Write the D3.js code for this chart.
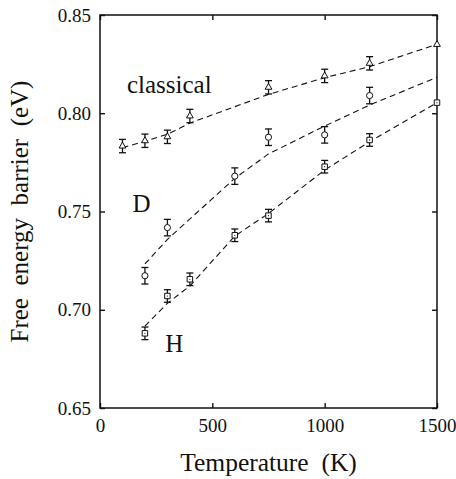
<!DOCTYPE html>
<html>
<head>
<meta charset="utf-8">
<script src="https://cdn.jsdelivr.net/npm/d3@7"></script>
<style>
    body { margin: 0; background: #fff; }
    svg text { font-family: "Liberation Serif", "Times New Roman", serif; fill: #111; }
</style>
</head>
<body>
<svg id="chart"></svg>
<script>
// temperatures (K)
const temps = [100, 200, 300, 400, 600, 750, 1000, 1200, 1500];

// simulated points, null = no point at that temperature
const classicalVals = [0.7833, 0.7860, 0.7880, 0.7986, null, 0.8132, 0.8190, 0.8254, 0.8350];
const dVals = [null, 0.7173, 0.7418, null, 0.7680, 0.7878, 0.7890, 0.8090, null];
const hVals = [null, 0.6880, 0.7070, 0.7155, 0.7379, 0.7479, 0.7728, 0.7864, 0.8054];

// half error bars (eV), 0 = no bar drawn
const classicalErr = [0.0034, 0.0034, 0.0034, 0.0034, 0, 0.0034, 0.0034, 0.0034, 0];
const dErr = [0, 0.0042, 0.0042, 0, 0.0042, 0.0042, 0.0042, 0.0042, 0];
const hErr = [0, 0.0032, 0.0032, 0.0032, 0.0032, 0.0032, 0.0032, 0.0032, 0];

// dashed fit curves
const classicalFit = [0.7825, 0.7857, 0.7893, 0.7950, null, 0.8096, 0.8181, 0.8237, 0.8351];
const dFit = [null, 0.7233, 0.7358, null, 0.7669, 0.7793, 0.7935, 0.8042, 0.8183];
const hFit = [null, 0.6917, 0.7033, 0.7121, 0.7375, 0.7490, 0.7711, 0.7855, 0.8054];

const xTicks = [0, 500, 1000, 1500];
const yTicks = [0.65, 0.70, 0.75, 0.80, 0.85];

const series = [
    {name: 'classical', marker: 'triangle', vals: classicalVals, err: classicalErr, fit: classicalFit},
    {name: 'D', marker: 'circle', vals: dVals, err: dErr, fit: dFit},
    {name: 'H', marker: 'square', vals: hVals, err: hErr, fit: hFit}
];

// label text with its anchor in data units
const labels = [
    {text: 'classical', t: 120, v: 0.8103},
    {text: 'D', t: 145, v: 0.7499},
    {text: 'H', t: 290, v: 0.6786}
];

const fontStack = '"Liberation Serif", "Times New Roman", serif';
const width = 456, height = 479;
const margin = {top: 15, right: 19, bottom: 71, left: 100};
const innerW = width - margin.left - margin.right;
const innerH = height - margin.top - margin.bottom;

const svg = d3.select('#chart')
    .attr('width', width)
    .attr('height', height)
    .attr('font-family', fontStack);

const chart = svg.append('g')
    .attr('transform', `translate(${margin.left},${margin.top})`);

const xScale = d3.scaleLinear().domain([0, 1500]).range([0, innerW]);
const yScale = d3.scaleLinear().domain([0.65, 0.85]).range([innerH, 0]);

// axes, ticks pointing inward on every side
const xAxis = d3.axisBottom(xScale).tickValues(xTicks).tickSize(-5).tickPadding(11)
    .tickFormat(d3.format('d'));
const yAxis = d3.axisLeft(yScale).tickValues(yTicks).tickSize(-5).tickPadding(9)
    .tickFormat(d3.format('.2f'));

chart.append('g')
    .attr('transform', `translate(0,${innerH})`)
    .call(xAxis)
    .call(g => g.select('.domain').remove());
chart.append('g')
    .call(yAxis)
    .call(g => g.select('.domain').remove());
chart.append('g')
    .call(d3.axisTop(xScale).tickValues(xTicks).tickSize(-5).tickFormat(''))
    .call(g => g.select('.domain').remove());
chart.append('g')
    .attr('transform', `translate(${innerW},0)`)
    .call(d3.axisRight(yScale).tickValues(yTicks).tickSize(-5).tickFormat(''))
    .call(g => g.select('.domain').remove());

chart.selectAll('.tick').select(function() { return this.parentNode; })
    .attr('font-family', fontStack);
chart.selectAll('.tick line').attr('stroke', '#111').attr('stroke-width', 1.4);
chart.selectAll('.tick text')
    .attr('font-size', 19)
    .attr('fill', '#111')
    .attr('font-family', fontStack);

chart.append('rect')
    .attr('width', innerW)
    .attr('height', innerH)
    .attr('fill', 'none')
    .attr('stroke', '#111')
    .attr('stroke-width', 1.5);

// dashed fits
const line = d3.line()
    .x(d => xScale(d.t))
    .y(d => yScale(d.v));

chart.selectAll('.fit')
    .data(series)
    .join('path')
    .attr('class', 'fit')
    .attr('d', s => line(temps.map((t, i) => ({t: t, v: s.fit[i]})).filter(d => d.v !== null)))
    .attr('fill', 'none')
    .attr('stroke', '#111')
    .attr('stroke-width', 1.1)
    .attr('stroke-dasharray', '6,4');

// points with error bars
const symbols = {
    triangle: d3.symbol().type(d3.symbolTriangle).size(20),
    circle: d3.symbol().type(d3.symbolCircle).size(30),
    square: d3.symbol().type(d3.symbolSquare).size(30)
};

series.forEach(s => {
    const pts = temps.map((t, i) => ({t: t, v: s.vals[i], e: s.err[i]})).filter(d => d.v !== null);
    const g = chart.append('g').attr('class', 'series-' + s.name);

    const bars = pts.filter(d => d.e > 0);
    g.selectAll('.bar')
        .data(bars)
        .join('line')
        .attr('x1', d => xScale(d.t)).attr('x2', d => xScale(d.t))
        .attr('y1', d => yScale(d.v - d.e)).attr('y2', d => yScale(d.v + d.e))
        .attr('stroke', '#111').attr('stroke-width', 1.3);
    [-1, 1].forEach(sign => {
        g.selectAll('.cap' + sign)
            .data(bars)
            .join('line')
            .attr('x1', d => xScale(d.t) - 3.5).attr('x2', d => xScale(d.t) + 3.5)
            .attr('y1', d => yScale(d.v + sign * d.e)).attr('y2', d => yScale(d.v + sign * d.e))
            .attr('stroke', '#111').attr('stroke-width', 1.3);
    });

    g.selectAll('.pt')
        .data(pts)
        .join('path')
        .attr('transform', d => `translate(${xScale(d.t)},${yScale(d.v)})`)
        .attr('d', symbols[s.marker])
        .attr('fill', '#fff')
        .attr('stroke', '#111')
        .attr('stroke-width', 1);

    if (s.marker === 'square') {
        g.selectAll('.dot')
            .data(pts)
            .join('circle')
            .attr('cx', d => xScale(d.t)).attr('cy', d => yScale(d.v))
            .attr('r', 0.6).attr('fill', '#111');
    }
});

chart.selectAll('.series-label')
    .data(labels)
    .join('text')
    .attr('class', 'series-label')
    .attr('x', d => xScale(d.t))
    .attr('y', d => yScale(d.v))
    .attr('font-size', 25)
    .text(d => d.text);

// axis titles
svg.append('text')
    .attr('x', margin.left + innerW / 2)
    .attr('y', 471)
    .attr('text-anchor', 'middle')
    .attr('font-size', 25.5)
    .style('white-space', 'pre')
    .text('Temperature  (K)');

svg.append('text')
    .attr('transform', `translate(28,${margin.top + innerH / 2}) rotate(-90)`)
    .attr('text-anchor', 'middle')
    .attr('font-size', 25)
    .style('white-space', 'pre')
    .text('Free  energy  barrier  (eV)');
</script>
</body>
</html>
